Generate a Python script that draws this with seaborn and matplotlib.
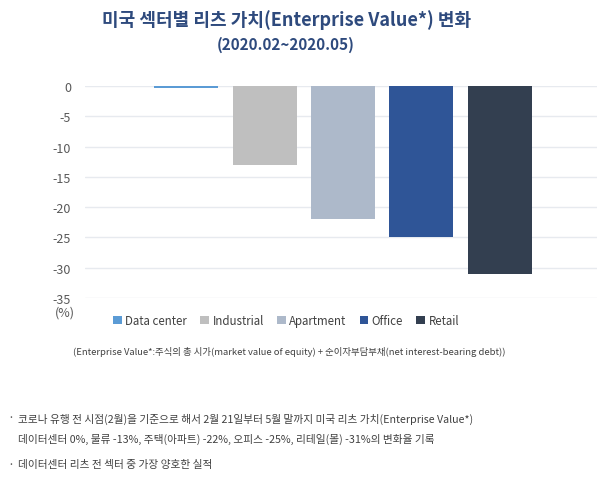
#!/usr/bin/env python3
"""US REIT enterprise value change by sector, Feb-May 2020."""

import matplotlib
matplotlib.use('Agg')
import matplotlib.pyplot as plt
import pandas as pd
import seaborn as sns
from matplotlib.patches import Patch

sectors = ['Data center', 'Industrial', 'Apartment', 'Office', 'Retail']
ev_change = [-0.3, -13, -22, -25, -31]
colors = ['#5B9BD5', '#BFBFBF', '#ADB9CA', '#2F5597', '#333F50']
y_ticks = [0, -5, -10, -15, -20, -25, -30, -35]

sns.set_style('white')
plt.rcParams['font.family'] = ['Noto Sans CJK KR', 'DejaVu Sans']

df = pd.DataFrame({'sector': sectors, 'change': ev_change})

fig = plt.figure(figsize=(6.05, 4.81), dpi=100)
ax = fig.add_axes([0.1405, 0.3784, 0.8463, 0.4407])

sns.barplot(data=df, x='sector', y='change', hue='sector', palette=colors,
            width=0.815, legend=False, ax=ax, saturation=1, linewidth=0)

ax.set_xlim(-1.29, 5.24)
ax.set_ylim(-35, 0)
ax.set_yticks(y_ticks)
ax.set_yticklabels([str(t) for t in y_ticks])
ax.set_xticks([])
ax.set_xlabel('')
ax.set_ylabel('')
ax.yaxis.grid(True, color='#E7EAEF', linewidth=1)
ax.set_axisbelow(True)
ax.tick_params(axis='y', length=0, labelsize=9, colors='#595959', pad=10)
for s in ax.spines.values():
    s.set_visible(False)

# titles
fig.text(0.474, 0.958, '미국 섹터별 리츠 가치(Enterprise Value*) 변화',
         ha='center', va='center', fontsize=13, fontweight='bold', color='#2E4A7D')
fig.text(0.472, 0.906, '(2020.02~2020.05)',
         ha='center', va='center', fontsize=11, fontweight='bold', color='#2E4A7D')

fig.text(0.108, 0.349, '(%)', ha='center', va='center', fontsize=9, color='#595959')

handles = [Patch(facecolor=c, edgecolor='none') for c in colors]
leg = fig.legend(handles, sectors, loc='center', bbox_to_anchor=(0.473, 0.332),
                 ncol=5, frameon=False, fontsize=8.3, handlelength=0.75, handleheight=0.75,
                 handletextpad=0.3, columnspacing=1.15, labelcolor='#404040')

fig.text(0.12, 0.268,
         '(Enterprise Value*:주식의 총 시가(market value of equity) + 순이자부담부채(net interest-bearing debt))',
         ha='left', va='center', fontsize=6.75, color='#404040')

fig.text(0.012, 0.129, '·', ha='left', va='center', fontsize=9, color='#595959')
fig.text(0.03, 0.129,
         '코로나 유행 전 시점(2월)을 기준으로 해서 2월 21일부터 5월 말까지 미국 리츠 가치(Enterprise Value*)',
         ha='left', va='center', fontsize=7.7, color='#404040')
fig.text(0.03, 0.087,
         '데이터센터 0%, 물류 -13%, 주택(아파트) -22%, 오피스 -25%, 리테일(몰) -31%의 변화율 기록',
         ha='left', va='center', fontsize=7.7, color='#404040')
fig.text(0.012, 0.033, '·', ha='left', va='center', fontsize=9, color='#595959')
fig.text(0.03, 0.033, '데이터센터 리츠 전 섹터 중 가장 양호한 실적',
         ha='left', va='center', fontsize=7.7, color='#404040')

fig.savefig('out.png', dpi=100)
